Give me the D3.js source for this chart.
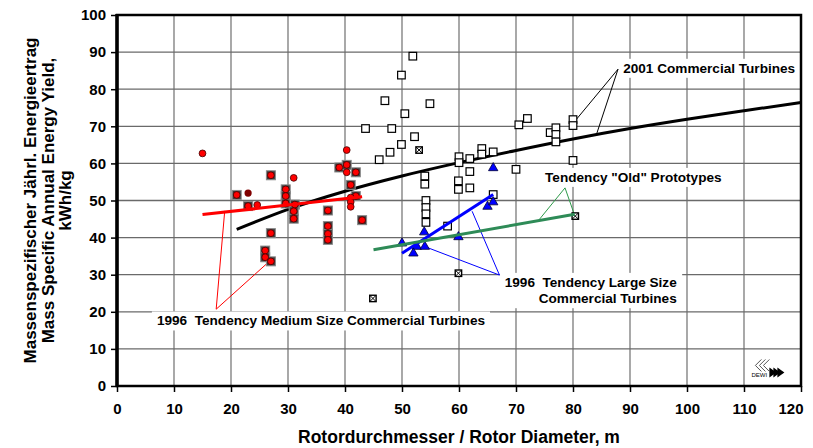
<!DOCTYPE html>
<html>

<head>
    <title>Mass Specific Annual Energy Yield</title>
    <script src="https://d3js.org/d3.v7.min.js"></script>
    <style>
        body { margin: 0; background: #fff; }
        text { font-family: "Liberation Sans", Arial, sans-serif; font-weight: bold; white-space: pre; }
    </style>
</head>

<body>
    <script>
        var xTicks = [0, 10, 20, 30, 40, 50, 60, 70, 80, 90, 100, 110, 120];
        var yTicks = [0, 10, 20, 30, 40, 50, 60, 70, 80, 90, 100];

        // [rotor diameter m, kWh/kg]
        var commercial2001 = [
            [51.9, 88.9], [49.9, 83.8], [47.0, 76.9], [54.9, 76.1], [50.5, 73.4], [43.6, 69.4],
            [48.2, 69.4], [52.2, 67.2], [49.9, 65.1], [47.9, 63.0], [46.0, 61.0], [60.0, 61.8],
            [60.0, 60.2], [61.9, 61.3], [61.9, 57.8], [54.0, 56.6], [54.0, 54.4], [59.9, 55.3],
            [59.9, 53.0], [61.9, 53.4], [54.2, 50.0], [54.2, 48.1], [54.2, 46.4], [54.2, 44.1],
            [58.0, 43.1], [64.0, 64.0], [64.0, 62.5], [66.0, 63.1], [66.0, 51.6], [70.0, 58.4],
            [70.5, 70.4], [72.0, 72.1], [76.0, 68.3], [77.0, 69.6], [77.0, 67.8], [77.0, 65.8],
            [80.0, 71.8], [80.0, 70.2], [80.0, 60.8]
        ];
        var medium1996 = [
            [27.0, 56.8], [21.0, 51.5], [23.0, 48.5], [29.6, 53.0], [29.6, 51.2], [29.6, 49.2],
            [31.2, 48.9], [31.0, 47.1], [31.0, 45.1], [27.0, 41.2], [26.0, 36.5], [26.0, 34.7],
            [27.0, 33.6], [37.0, 47.3], [37.0, 43.1], [37.0, 41.0], [37.0, 39.4], [39.0, 58.9],
            [40.3, 59.6], [41.9, 57.6], [41.0, 54.2], [41.9, 51.2], [43.0, 44.7]
        ];
        var medium1996Plain = [
            [15.0, 62.7], [31.0, 56.1], [24.6, 48.8], [40.3, 63.6], [40.3, 57.6],
            [41.0, 50.8], [41.0, 49.6], [41.0, 48.3]
        ];
        var medium1996Dark = [[23.0, 52.0]];
        var large1996 = [
            [53.9, 41.6], [50.0, 38.6], [52.6, 37.7], [54.0, 37.7], [52.0, 35.9],
            [59.9, 40.3], [66.0, 58.9], [65.0, 48.5], [66.0, 49.7]
        ];
        var oldPrototypes = [[53.0, 63.6], [59.9, 30.4], [44.9, 23.6], [80.4, 45.8]];

        var trend2001X = [21, 30, 40, 50, 60, 70, 80, 90, 100, 110, 120];
        var trend2001Y = [42.2, 47.6, 52.5, 56.6, 60.2, 63.5, 66.6, 69.4, 71.9, 74.2, 76.4];
        var trendMedium = [[15, 46.2], [43, 51.0]];
        var trendLarge = [[50, 35.8], [66, 51.6]];
        var trendOld = [[45, 36.7], [80.3, 46.3]];

        // callout labels: text anchor and leader lines in data units
        var callouts = [
            { lines: ["2001 Commercial Turbines"], x: 88.8, y: 85.7, anchor: "start", color: "#000",
              apex: [87.9, 85.4], ends: [[80.5, 71.7], [84.2, 68.2]] },
            { lines: ["Tendency \"Old\" Prototypes"], x: 75.1, y: 56.3, anchor: "start", color: "#2e9a4a",
              apex: [78.6, 53.4], ends: [[74.1, 44.9], [80.2, 46.4]] },
            { lines: ["1996  Tendency Large Size", "Commercial Turbines"], x: 98.2, y: 28.0, anchor: "end", color: "#0000ff",
              apex: [67.1, 29.9], ends: [[62.3, 47.1], [54.3, 37.4]] },
            { lines: ["1996  Tendency Medium Size Commercial Turbines"], x: 7.0, y: 17.6, anchor: "start", color: "#ff0000",
              apex: [17.4, 20.7], ends: [[18.9, 47.2], [26.8, 33.7]] }
        ];

        var width = 813, height = 448;
        var margin = { top: 15, right: 12, bottom: 62, left: 117 };

        var svg = d3.select("body").append("svg")
            .attr("width", width)
            .attr("height", height);

        var x = d3.scaleLinear().domain([0, 120]).range([margin.left, width - margin.right]);
        var y = d3.scaleLinear().domain([0, 100]).range([height - margin.bottom, margin.top]);

        // grid
        svg.append("g").selectAll("line").data(xTicks.slice(1, -1)).join("line")
            .attr("x1", d => x(d)).attr("x2", d => x(d))
            .attr("y1", y(0)).attr("y2", y(100))
            .style("stroke", "#7a7a7a").style("stroke-width", 1.3);
        svg.append("g").selectAll("line").data(yTicks.slice(1, -1)).join("line")
            .attr("x1", x(0)).attr("x2", x(120))
            .attr("y1", d => y(d)).attr("y2", d => y(d))
            .style("stroke", "#6a6a6a").style("stroke-width", 1.3);

        // axes
        var xAxis = svg.append("g")
            .attr("transform", `translate(0,${y(0)})`)
            .call(d3.axisBottom(x).tickValues(xTicks).tickSize(6).tickPadding(11));
        var yAxis = svg.append("g")
            .attr("transform", `translate(${x(0)},0)`)
            .call(d3.axisLeft(y).tickValues(yTicks).tickSize(6).tickPadding(5));
        [xAxis, yAxis].forEach(function (g) {
            g.select(".domain").remove();
            g.selectAll(".tick line").style("stroke", "#000").style("stroke-width", 1.5);
            g.selectAll(".tick text")
                .style("font-size", "15px")
                .style("font-family", "'Liberation Sans', Arial, sans-serif")
                .style("font-weight", "bold")
                .style("fill", "#000");
        });
        // last x label sits inside the frame edge
        xAxis.selectAll(".tick text").filter(d => d == 120)
            .attr("text-anchor", "end").attr("x", 2);

        // callout texts with white background
        var labelLayer = svg.append("g");
        var boxLayer = labelLayer.append("g");
        var leaderLayer = svg.append("g");
        var textLayer = svg.append("g");

        callouts.forEach(function (c) {
            var t = textLayer.append("text")
                .attr("x", x(c.x))
                .attr("y", y(c.y))
                .attr("text-anchor", c.anchor)
                .style("font-size", "13.6px")
                .style("fill", "#000");
            c.lines.forEach(function (line, i) {
                t.append("tspan")
                    .attr("x", x(c.x))
                    .attr("dy", i == 0 ? "0.35em" : "1.2em")
                    .text(line);
            });
            var bb = t.node().getBBox();
            boxLayer.append("rect")
                .attr("x", bb.x - 5)
                .attr("y", bb.y - 2)
                .attr("width", bb.width + 10)
                .attr("height", bb.height + 4)
                .style("fill", "#fff");
            c.ends.forEach(function (e) {
                leaderLayer.append("line")
                    .attr("x1", x(c.apex[0])).attr("y1", y(c.apex[1]))
                    .attr("x2", x(e[0])).attr("y2", y(e[1]))
                    .style("stroke", c.color).style("stroke-width", 1);
            });
        });

        var line = d3.line().x(d => x(d[0])).y(d => y(d[1]));
        var trendLayer = svg.append("g");
        trendLayer.append("path")
            .datum(trend2001X.map((d, i) => [d, trend2001Y[i]]))
            .attr("d", line.curve(d3.curveMonotoneX))
            .style("fill", "none").style("stroke", "#000").style("stroke-width", 3);
        line.curve(d3.curveLinear);

        // markers
        var markers = svg.append("g");
        markers.selectAll(".c01").data(commercial2001).join("rect")
            .attr("x", d => x(d[0]) - 3.8).attr("y", d => y(d[1]) - 3.8)
            .attr("width", 7.6).attr("height", 7.6)
            .style("fill", "#fff").style("stroke", "#000").style("stroke-width", 1.2);

        markers.selectAll(".m96sq").data(medium1996).join("rect")
            .attr("x", d => x(d[0]) - 4.5).attr("y", d => y(d[1]) - 4.5)
            .attr("width", 9).attr("height", 9)
            .style("fill", "#3c3c3c").style("stroke", "#8a8a8a").style("stroke-width", 1);
        markers.append("g").selectAll("circle").data(medium1996.concat(medium1996Plain)).join("circle")
            .attr("cx", d => x(d[0])).attr("cy", d => y(d[1])).attr("r", 3.4)
            .style("fill", "#ff0000").style("stroke", "#400000").style("stroke-width", 0.8);
        markers.append("g").selectAll("circle").data(medium1996Dark).join("circle")
            .attr("cx", d => x(d[0])).attr("cy", d => y(d[1])).attr("r", 3.6)
            .style("fill", "#800000");

        markers.append("g").selectAll("path").data(large1996).join("path")
            .attr("d", d3.symbol(d3.symbolTriangle, 38))
            .attr("transform", d => `translate(${x(d[0])},${y(d[1]) + 0.5})`)
            .style("fill", "#0000ff").style("stroke", "#000033").style("stroke-width", 0.8);

        var crossed = markers.append("g").selectAll("g").data(oldPrototypes).join("g")
            .attr("transform", d => `translate(${x(d[0])},${y(d[1])})`);
        crossed.append("rect")
            .attr("x", -3.2).attr("y", -3.2).attr("width", 6.4).attr("height", 6.4)
            .style("fill", "#fff").style("stroke", "#000").style("stroke-width", 1.4);
        crossed.append("path")
            .attr("d", "M-3,-3L3,3M3,-3L-3,3")
            .style("stroke", "#000").style("stroke-width", 1);

        // straight tendency lines
        trendLayer = svg.append("g");
        [[trendMedium, "#ff0000"], [trendLarge, "#0000ff"], [trendOld, "#2e8b57"]].forEach(function (t) {
            trendLayer.append("path")
                .datum(t[0])
                .attr("d", line)
                .style("fill", "none").style("stroke", t[1]).style("stroke-width", 3);
        });
        textLayer.raise();

        // frame
        svg.append("rect")
            .attr("x", x(0)).attr("y", y(100))
            .attr("width", x(120) - x(0)).attr("height", y(0) - y(100))
            .style("fill", "none").style("stroke", "#000").style("stroke-width", 2.5);
        svg.append("line")
            .attr("x1", x(0)).attr("x2", x(0)).attr("y1", y(100) - 1).attr("y2", y(0) + 1)
            .style("stroke", "#000").style("stroke-width", 3.5);

        // DEWI logo
        var logo = svg.append("g").attr("transform", `translate(${x(112)},${y(5)})`);
        [0, 4, 8].forEach(function (dx) {
            logo.append("path")
                .attr("d", `M${dx + 6},-8L${dx},-2L${dx + 6},4`)
                .style("fill", "none").style("stroke", "#555").style("stroke-width", 1);
            logo.append("path")
                .attr("d", `M${dx + 14},0L${dx + 21},5L${dx + 14},10Z`)
                .style("fill", "#000");
        });
        logo.append("text")
            .attr("x", -4).attr("y", 10)
            .style("font-size", "6px").style("font-weight", "normal")
            .text("DEWI");

        // axis titles
        svg.append("text")
            .attr("x", (x(0) + x(120)) / 2)
            .attr("y", 443)
            .attr("text-anchor", "middle")
            .style("font-size", "17.5px")
            .text("Rotordurchmesser / Rotor Diameter, m");

        var yTitle = ["Massenspezifischer Jährl. Energieertrag", "Mass Specific Annual Energy Yield,", "kWh/kg"];
        svg.append("g").selectAll("text").data(yTitle).join("text")
            .attr("transform", (d, i) => `translate(${36 + i * 17.5},${y(50)}) rotate(-90)`)
            .attr("text-anchor", "middle")
            .style("font-size", "17px")
            .text(d => d);
    </script>
</body>

</html>
